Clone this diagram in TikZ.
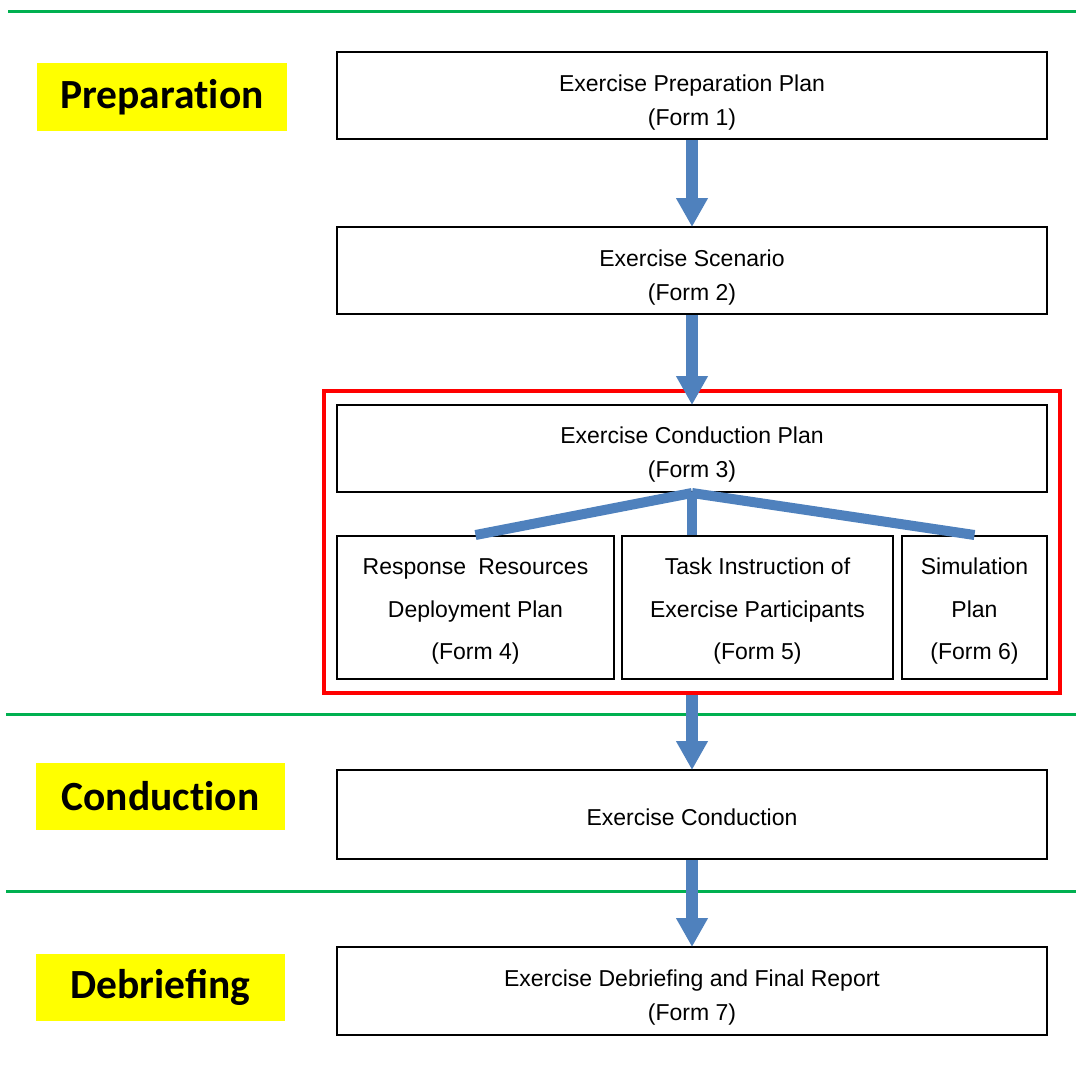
\documentclass[tikz,border=0pt]{standalone}
\usepackage{fontspec}
\setmainfont{Liberation Sans}
\newfontfamily\labelfont{Carlito}
\usetikzlibrary{arrows.meta}
\definecolor{flowblue}{HTML}{4F81BD}
\definecolor{sepgreen}{HTML}{00B050}
\definecolor{hilite}{HTML}{FFFF00}
\tikzset{
  formbox/.style={draw=black, line width=2pt, fill=white, inner sep=0pt},
  formtext/.style={inner sep=0pt, align=center, font=\fontsize{23}{34}\selectfont},
  subtext/.style={inner sep=0pt, align=center, font=\fontsize{23}{42.5}\selectfont},
  phase/.style={fill=hilite, inner sep=0pt, font=\labelfont\bfseries\fontsize{41.5}{45}\selectfont},
  flow/.style={draw=flowblue, line width=12pt, -{Triangle[width=30pt,length=29pt]}, shorten >=-1pt},
  branch/.style={draw=flowblue, line width=10pt},
  sep/.style={draw=sepgreen, line width=3pt},
  frame/.style={draw=red, line width=4pt, inner sep=0pt}
}
\begin{document}
\begin{tikzpicture}[x=1pt, y=-1pt]
\useasboundingbox (0,0) rectangle (1076,1068);
% separators
\coordinate (s1a) at (8,11);   \coordinate (s1b) at (1076,11);
\coordinate (s2a) at (6,714);  \coordinate (s2b) at (1076,714);
\coordinate (s3a) at (6,891);  \coordinate (s3b) at (1076,891);
\draw[sep] (s1a) -- (s1b);
\draw[sep] (s2a) -- (s2b);
\draw[sep] (s3a) -- (s3b);
% phase labels
\node[phase, minimum width=250pt, minimum height=68pt] (pprep) at (162,97) {Preparat\kern0pt ion};
\node[phase, minimum width=249pt, minimum height=67pt] (pcond) at (160.5,796.5) {Conduct\kern0pt ion};
\node[phase, minimum width=249pt, minimum height=67pt] (pdeb) at (160.5,987.5) {Debriefing};
% red frame
\node[frame, minimum width=736pt, minimum height=302pt] (grp) at (692,542) {};
% boxes
\node[formbox, minimum width=710pt, minimum height=87pt] (f1) at (692,95.5) {};
\node[formbox, minimum width=710pt, minimum height=87pt] (f2) at (692,270.5) {};
\node[formbox, minimum width=710pt, minimum height=87pt] (f3) at (692,448.5) {};
\node[formbox, minimum width=277pt, minimum height=143pt] (f4) at (475.5,607.5) {};
\node[formbox, minimum width=271pt, minimum height=143pt] (f5) at (757.5,607.5) {};
\node[formbox, minimum width=145pt, minimum height=143pt] (f6) at (974.5,607.5) {};
\node[formbox, minimum width=710pt, minimum height=89pt] (fc) at (692,814.5) {};
\node[formbox, minimum width=710pt, minimum height=88pt] (f7) at (692,991) {};
% box texts
\node[formtext] (t1) at ([yshift=-7pt]f1.center) {Exercise Preparation Plan\\(Form 1)};
\node[formtext] (t2) at ([yshift=-7pt]f2.center) {Exercise Scenario\\(Form 2)};
\node[formtext] (t3) at ([yshift=-6pt]f3.center) {Exercise Conduction Plan\\(Form 3)};
\node[subtext] (t4) at ([yshift=-4pt]f4.center) {Response\hspace{0.25em} Resources\\Deployment Plan\\(Form 4)};
\node[subtext] (t5) at ([yshift=-4pt]f5.center) {Task Instruction of\\Exercise Participants\\(Form 5)};
\node[subtext] (t6) at ([yshift=-4pt]f6.center) {Simulation\\Plan\\(Form 6)};
\node[formtext] (tc) at ([yshift=-3pt]fc.center) {Exercise Conduction};
\node[formtext] (t7) at ([yshift=-7pt]f7.center) {Exercise Debriefing and Final Report\\(Form 7)};
% branches
\draw[branch] (f3.south) -- (f4.north);
\draw[branch] (f3.south) -- (f3.south |- f5.north);
\draw[branch] (f3.south) -- (f6.north);
% flow arrows
\draw[flow] (f1.south) -- (f2.north);
\draw[flow] (f2.south) -- (f3.north);
\draw[flow] (grp.south -| f3.south) -- (fc.north);
\draw[flow] (fc.south) -- (f7.north);
\end{tikzpicture}
\end{document}
